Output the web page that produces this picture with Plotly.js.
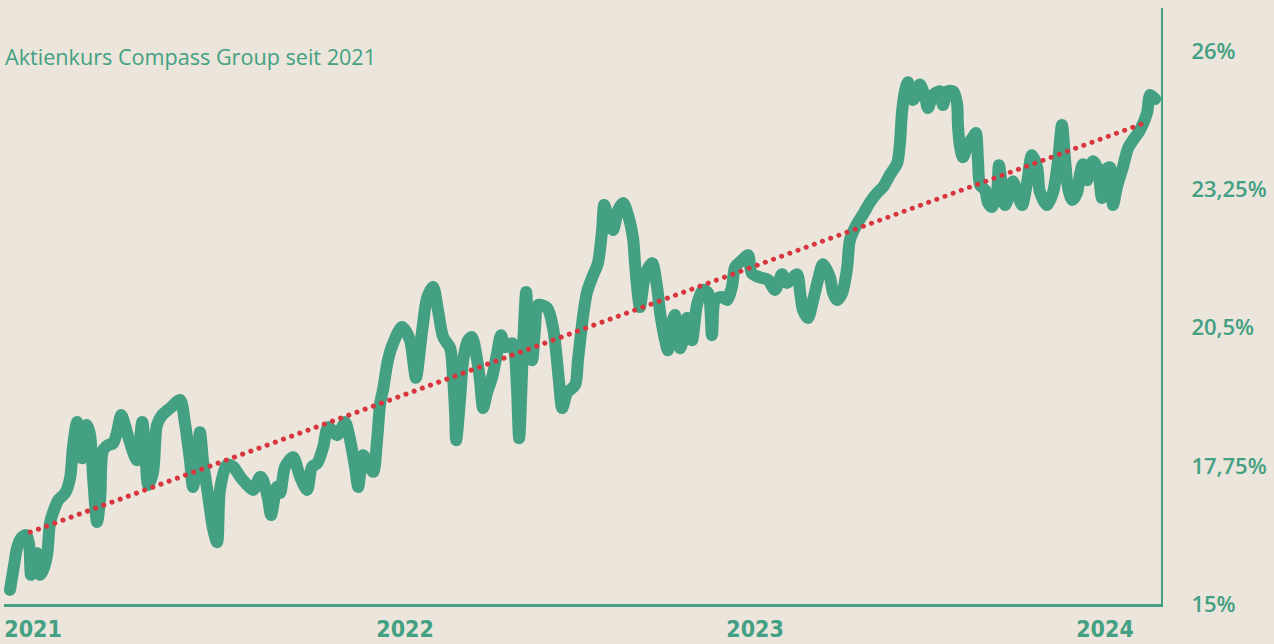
<!DOCTYPE html>
<html>
<head>
<meta charset="utf-8">
<script src="https://cdn.plot.ly/plotly-3.0.1.min.js"></script>
<style>
  html, body { margin: 0; padding: 0; background: #ebe5db; }
  #chart { width: 1274px; height: 644px; }
  .js-line { stroke-linejoin: round; stroke-linecap: round; }
</style>
</head>
<body>
<div id="chart"></div>
<script>
// Time in decimal years, share price index in %
const years = [
  2020.871,2020.883,2020.891,2020.903,2020.917,2020.926,2020.931,2020.940,2020.949,2020.957,
  2020.966,2020.977,2020.986,2021.000,2021.009,2021.029,2021.043,2021.051,2021.063,2021.077,
  2021.091,2021.100,2021.109,2021.120,2021.129,2021.137,2021.151,2021.166,2021.177,2021.189,
  2021.206,2021.223,2021.234,2021.249,2021.257,2021.266,2021.280,2021.291,2021.306,2021.329,
  2021.357,2021.371,2021.386,2021.394,2021.406,2021.414,2021.423,2021.437,2021.451,2021.463,
  2021.471,2021.491,2021.509,2021.529,2021.549,2021.566,2021.586,2021.594,2021.609,2021.617,
  2021.634,2021.643,2021.657,2021.680,2021.700,2021.720,2021.734,2021.749,2021.766,2021.780,
  2021.806,2021.820,2021.829,2021.843,2021.857,2021.866,2021.880,2021.894,2021.909,2021.920,
  2021.929,2021.937,2021.951,2021.966,2021.991,2022.014,2022.023,2022.031,2022.049,2022.063,
  2022.080,2022.094,2022.109,2022.129,2022.137,2022.143,2022.146,2022.157,2022.166,2022.180,
  2022.191,2022.206,2022.214,2022.223,2022.234,2022.249,2022.263,2022.274,2022.286,2022.306,
  2022.314,2022.320,2022.326,2022.337,2022.346,2022.351,2022.363,2022.371,2022.380,2022.406,
  2022.423,2022.434,2022.440,2022.449,2022.463,2022.486,2022.494,2022.509,2022.520,2022.537,
  2022.551,2022.563,2022.569,2022.580,2022.594,2022.609,2022.623,2022.637,2022.651,2022.657,
  2022.663,2022.671,2022.686,2022.706,2022.720,2022.729,2022.743,2022.751,2022.763,2022.771,
  2022.786,2022.794,2022.806,2022.820,2022.834,2022.851,2022.866,2022.877,2022.886,2022.906,
  2022.920,2022.934,2022.943,2022.963,2022.980,2022.991,2023.014,2023.037,2023.057,2023.077,
  2023.091,2023.120,2023.129,2023.137,2023.151,2023.166,2023.180,2023.194,2023.214,2023.223,
  2023.234,2023.249,2023.263,2023.271,2023.291,2023.309,2023.329,2023.349,2023.366,2023.386,
  2023.406,2023.414,2023.420,2023.429,2023.437,2023.451,2023.463,2023.471,2023.486,2023.494,
  2023.509,2023.529,2023.537,2023.549,2023.566,2023.577,2023.580,2023.586,2023.594,2023.609,
  2023.623,2023.631,2023.637,2023.643,2023.657,2023.666,2023.677,2023.691,2023.697,2023.706,
  2023.714,2023.729,2023.737,2023.749,2023.763,2023.777,2023.791,2023.806,2023.814,2023.834,
  2023.851,2023.866,2023.877,2023.886,2023.894,2023.906,2023.920,2023.929,2023.937,2023.949,
  2023.957,2023.966,2023.980,2023.991,2024.000,2024.014,2024.023,2024.034,2024.051,2024.066,
  2024.086,2024.100,2024.120,2024.129,2024.143
];
const kurs = [
  15.28,15.78,16.11,16.31,16.37,16.17,15.58,15.88,16.01,15.58,
  15.68,15.97,16.63,16.93,17.07,17.21,17.51,18.12,18.62,17.90,
  18.56,18.36,17.47,16.63,17.13,18.06,18.16,18.20,18.42,18.76,
  18.40,18.02,17.86,18.62,18.12,17.37,17.63,18.56,18.76,18.90,
  19.06,18.60,17.82,17.33,17.82,18.42,17.82,17.17,16.51,16.23,
  17.27,17.77,17.73,17.53,17.37,17.27,17.53,17.47,17.07,16.77,
  17.33,17.21,17.73,17.92,17.53,17.27,17.73,17.80,18.12,18.52,
  18.36,18.52,18.62,18.26,17.73,17.33,17.96,17.80,17.63,18.26,
  19.00,19.26,19.85,20.19,20.51,20.25,19.85,19.50,20.45,21.09,
  21.31,20.85,20.31,20.09,19.52,18.80,18.26,19.06,19.85,20.25,
  20.31,19.85,19.46,18.90,19.20,19.52,19.99,20.35,20.11,20.19,
  19.95,19.26,18.30,20.11,21.21,20.51,19.85,20.45,20.95,20.89,
  20.49,19.85,19.42,18.90,19.20,19.36,19.85,20.75,21.21,21.54,
  21.78,22.44,22.94,22.68,22.44,22.84,22.98,22.74,22.30,21.78,
  21.31,20.91,21.54,21.78,21.31,20.79,20.25,20.05,20.59,20.75,
  20.09,20.25,20.69,20.25,20.95,21.25,21.19,20.35,21.05,21.11,
  21.05,21.31,21.70,21.84,21.94,21.58,21.50,21.45,21.25,21.56,
  21.39,21.56,21.19,20.85,20.69,21.05,21.45,21.76,21.50,21.19,
  21.05,21.19,21.68,22.24,22.56,22.76,23.00,23.18,23.30,23.55,
  23.77,24.17,24.79,25.22,25.38,25.03,25.15,25.34,25.09,24.87,
  25.13,25.20,24.93,25.20,25.20,24.97,24.49,24.09,23.89,24.15,
  24.29,24.37,23.83,23.34,23.24,22.98,22.90,23.18,23.73,23.30,
  22.94,23.18,23.41,23.18,22.94,23.37,23.93,23.69,23.20,22.94,
  23.18,23.83,24.53,23.83,23.30,23.04,23.18,23.57,23.75,23.43,
  23.69,23.81,23.63,23.08,23.63,23.69,22.94,23.30,23.69,24.07,
  24.29,24.43,24.77,25.13,25.05
];
// Trend line (start / end)
const trendYears = [2020.929, 2024.120];
const trendKurs = [16.43, 24.59];

// Axis ticks
const xTickVals = [2020.937, 2022, 2023, 2024];
const xTickText = ['2021', '2022', '2023', '2024'];
const yTickVals = [15, 17.75, 20.5, 23.25, 26];
const yTickText = ['15%', '17,75%', '20,5%', '23,25%', '26%'];

const titleText = 'Aktienkurs Compass Group seit 2021';

const GREEN = '#43a082';
const RED = '#d8353f';
const BG = '#ebe5db';

const traces = [
  {
    x: years, y: kurs, type: 'scatter', mode: 'lines',
    line: { color: GREEN, width: 12, shape: 'spline', smoothing: 0.8 },
    hoverinfo: 'skip', showlegend: false
  },
  {
    x: trendYears, y: trendKurs, type: 'scatter', mode: 'lines',
    line: { color: RED, width: 5, dash: '0.1px,8.6px' },
    hoverinfo: 'skip', showlegend: false
  }
];

const layout = {
  width: 1274, height: 644,
  margin: { l: 4, r: 113, t: 8, b: 40, pad: 0 },
  paper_bgcolor: BG, plot_bgcolor: BG,
  showlegend: false,
  title: {
    text: titleText,
    xref: 'container', yref: 'container',
    x: 0.004, xanchor: 'left',
    y: 1 - 57 / 644, yanchor: 'middle',
    font: { family: 'Open Sans, sans-serif', size: 21.6, color: GREEN }
  },
  xaxis: {
    range: [2020.854, 2024.16],
    showgrid: false, zeroline: false,
    showline: true, linecolor: GREEN, linewidth: 3,
    tickmode: 'array', tickvals: xTickVals, ticktext: xTickText,
    ticks: '', ticklabelstandoff: 2, ticklabeloverflow: 'allow',
    tickfont: { family: 'DejaVu Sans Condensed, DejaVu Sans, sans-serif', stretch: 'condensed', size: 23, color: GREEN, weight: 600 },
    fixedrange: true
  },
  yaxis: {
    side: 'right',
    range: [15, 26.86],
    showgrid: false, zeroline: false,
    showline: true, linecolor: GREEN, linewidth: 2,
    tickmode: 'array', tickvals: yTickVals, ticktext: yTickText,
    ticks: '', ticklabelstandoff: 24,
    tickfont: { family: 'Open Sans, sans-serif', size: 22, color: GREEN, weight: 600 },
    fixedrange: true
  },
  hovermode: false
};

Plotly.newPlot('chart', traces, layout, { displayModeBar: false, staticPlot: true });
</script>
</body>
</html>
